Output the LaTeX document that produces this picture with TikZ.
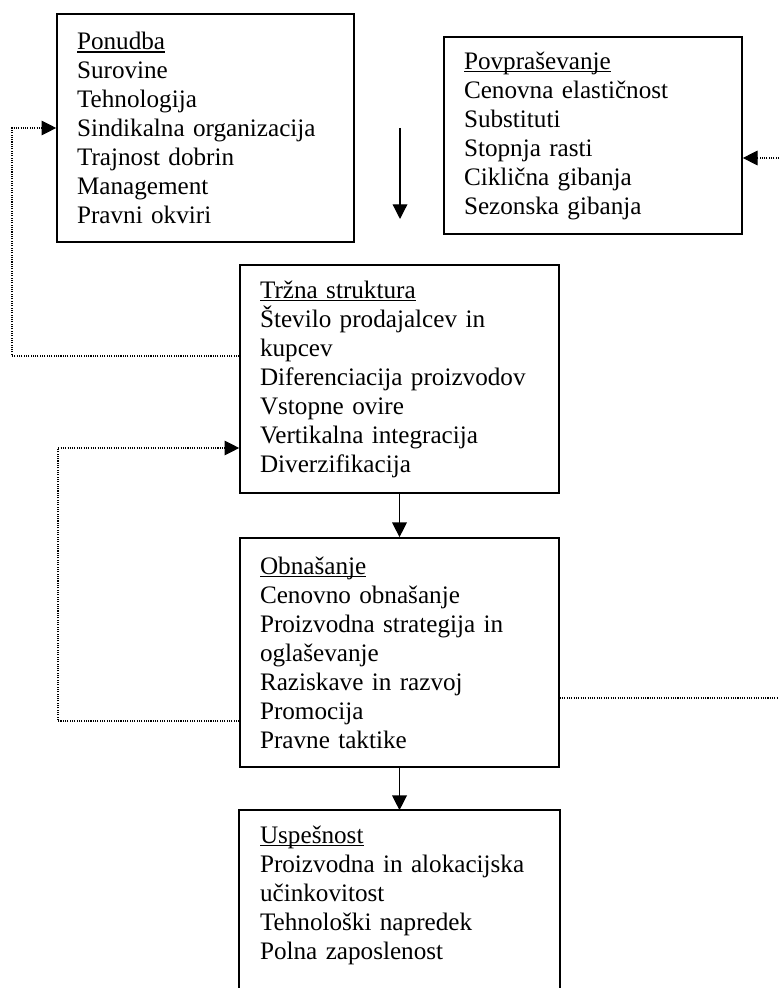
\documentclass[tikz,border=0pt]{standalone}
\usepackage{fontspec}
\setmainfont{Liberation Serif}
\usetikzlibrary{arrows.meta}
\newcommand{\naslov}[1]{\setbox0\hbox{#1}\rlap{\rule[-1.4pt]{\wd0}{0.55pt}}\box0}

\begin{document}
\begin{tikzpicture}[x=0.4768pt, y=-0.4768pt, >={Triangle[length=7pt, width=7pt]},
  blok/.style={draw, thick, align=left, inner xsep=9.54pt, inner ysep=0pt, font={\fontsize{12}{13.83}\selectfont}},
  puscica/.style={semithick, ->},
  povratna/.style={line width=0.5pt, dash pattern=on 0.5pt off 0.6pt}]
% Set the page size
\useasboundingbox (0,0) rectangle (779,988);

% Draw the boxes and insert the text
\node[blok, text width=122.5pt, minimum height=108.7pt] (ponudba) at (205.5,128) {\naslov{Ponudba}\\Surovine\\Tehnologija\\Sindikalna organizacija\\Trajnost dobrin\\Management\\Pravni okviri};
\node[blok, text width=123pt, minimum height=93.9pt] (povprasevanje) at (593,135.5) {\naslov{Povpraševanje}\\Cenovna elastičnost\\Substituti\\Stopnja rasti\\Ciklična gibanja\\Sezonska gibanja};
\node[blok, text width=133pt, minimum height=108.7pt] (struktura) at (399.5,379) {\naslov{Tržna struktura}\\Število prodajalcev in\\kupcev\\Diferenciacija proizvodov\\Vstopne ovire\\Vertikalna integracija\\Diverzifikacija};
\node[blok, text width=133pt, minimum height=109.2pt] (obnasanje) at (399.5,652.5) {\naslov{Obnašanje}\\Cenovno obnašanje\\Proizvodna strategija in\\oglaševanje\\Raziskave in razvoj\\Promocija\\Pravne taktike};
\node[blok, draw=none, text width=133pt, minimum height=80.1pt] (uspesnost) at (399.5,895) {\naslov{Uspešnost}\\Proizvodna in alokacijska\\učinkovitost\\Tehnološki napredek\\Polna zaposlenost};
% the last box runs off the bottom of the page
\draw[thick] ([yshift=-20pt]uspesnost.south west) |- (uspesnost.north east) -- ([yshift=-20pt]uspesnost.south east);

% Solid arrows
\coordinate (dol1) at (400,128);
\coordinate (dol2) at (400,219);
\draw[puscica] (dol1) -- (dol2);
\draw[puscica] (struktura) -- (obnasanje);
\draw[puscica] (obnasanje) -- (uspesnost);

% Dotted feedback lines
\coordinate (levo1) at (12,356);
\coordinate (levo2) at (12,128);
\draw[povratna, ->] (struktura.west |- levo1) -- (levo1) -- (levo2) -- (ponudba.west |- levo2);
\coordinate (levo3) at (58,721);
\coordinate (levo4) at (58,448);
\draw[povratna, ->] (obnasanje.west |- levo3) -- (levo3) -- (levo4) -- (struktura.west |- levo4);
\coordinate (desno1) at (779,698);
\coordinate (desno2) at (779,158);
\draw[povratna] (obnasanje.east |- desno1) -- (desno1);
\draw[povratna, ->] (desno2) -- (povprasevanje.east |- desno2);
\end{tikzpicture}
\end{document}
